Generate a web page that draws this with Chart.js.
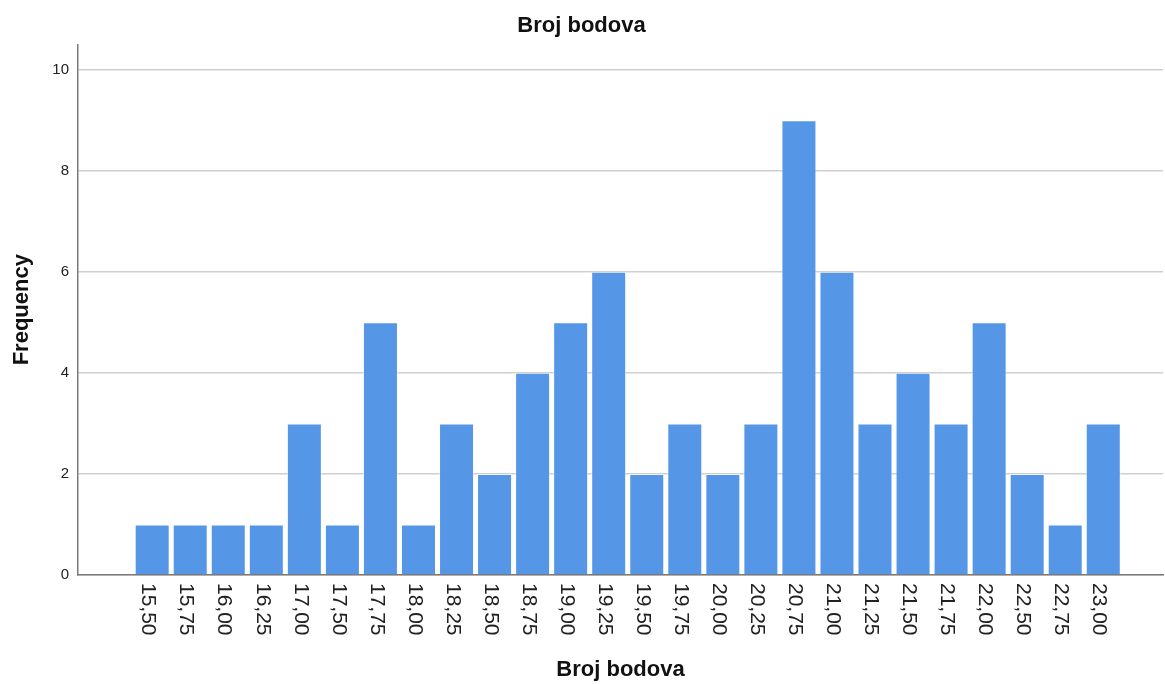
<!DOCTYPE html>
<html>
<head>
<meta charset="utf-8">
<title>Broj bodova</title>
<script src="https://cdn.jsdelivr.net/npm/chart.js@4.4.1/dist/chart.umd.min.js"></script>
<style>
  html, body { margin: 0; padding: 0; background: #fff; }
  #chart { display: block; }
</style>
</head>
<body>
<canvas id="chart" width="1165" height="684"></canvas>
<script>
// score categories (x) and how many times each occurs
const scoreLabels = ['15,50', '15,75', '16,00', '16,25', '17,00', '17,50', '17,75', '18,00', '18,25',
  '18,50', '18,75', '19,00', '19,25', '19,50', '19,75', '20,00', '20,25', '20,75', '21,00',
  '21,25', '21,50', '21,75', '22,00', '22,50', '22,75', '23,00'];
const frequencies = [1, 1, 1, 1, 3, 1, 5, 1, 3, 2, 4, 5, 6, 2, 3, 2, 3, 9, 6, 3, 4, 3, 5, 2, 1, 3];
const yTicks = [0, 2, 4, 6, 8, 10];

const FONT = "'Liberation Sans', Arial, sans-serif";

// x labels in the original read top-to-bottom, which Chart.js can't rotate to,
// so they get drawn here from the x scale positions
const rotatedLabels = {
  id: 'rotatedLabels',
  afterDraw(chart) {
    const ctx = chart.ctx;
    const xScale = chart.scales.x;
    const top = chart.chartArea.bottom + 8;
    ctx.save();
    ctx.font = '21px ' + FONT;
    ctx.fillStyle = '#222';
    ctx.textAlign = 'left';
    ctx.textBaseline = 'middle';
    scoreLabels.forEach((label, i) => {
      const x = xScale.getPixelForValue(i) - 4;
      ctx.save();
      ctx.translate(x, top);
      ctx.rotate(Math.PI / 2);
      ctx.fillText(label, 0, 0);
      ctx.restore();
    });
    ctx.restore();
  }
};

new Chart(document.getElementById('chart'), {
  type: 'bar',
  data: {
    datasets: [{
      data: frequencies.map((v, i) => ({ x: i, y: v })),
      backgroundColor: '#5596e6',
      borderColor: 'rgba(255,255,255,0.55)',
      borderWidth: 1,
      barPercentage: 0.92,
      categoryPercentage: 1
    }]
  },
  options: {
    responsive: false,
    devicePixelRatio: 1,
    animation: false,
    layout: { padding: { left: 0, right: 2, top: 0, bottom: 0 } },
    plugins: {
      legend: { display: false },
      tooltip: { enabled: false },
      title: {
        display: true,
        text: 'Broj bodova',
        color: '#111',
        font: { family: FONT, size: 22, weight: 'bold' },
        padding: { top: 13, bottom: 5 }
      }
    },
    scales: {
      x: {
        type: 'linear',
        offset: false,
        min: -1.95,
        max: 26.57,
        grid: { display: false },
        border: { display: true, color: '#7a7a7a', width: 1.5 },
        ticks: { display: false },
        afterFit(scale) { scale.height = 109; },
        title: {
          display: true,
          text: 'Broj bodova',
          color: '#111',
          font: { family: FONT, size: 22, weight: 'bold' },
          padding: { top: 0, bottom: 1 }
        }
      },
      y: {
        min: 0,
        max: 10.5,
        afterBuildTicks(scale) { scale.ticks = yTicks.map(v => ({ value: v })); },
        afterFit(scale) { scale.width = 78; },
        grid: { color: '#cfcfcf', lineWidth: 1.5, drawTicks: false },
        border: { display: true, color: '#7a7a7a', width: 1.5 },
        ticks: {
          color: '#222',
          padding: 9,
          font: { family: FONT, size: 15 }
        },
        title: {
          display: true,
          text: 'Frequency',
          color: '#111',
          font: { family: FONT, size: 22, weight: 'bold' },
          padding: { top: 9, bottom: 0 }
        }
      }
    }
  },
  plugins: [rotatedLabels]
});
</script>
</body>
</html>
